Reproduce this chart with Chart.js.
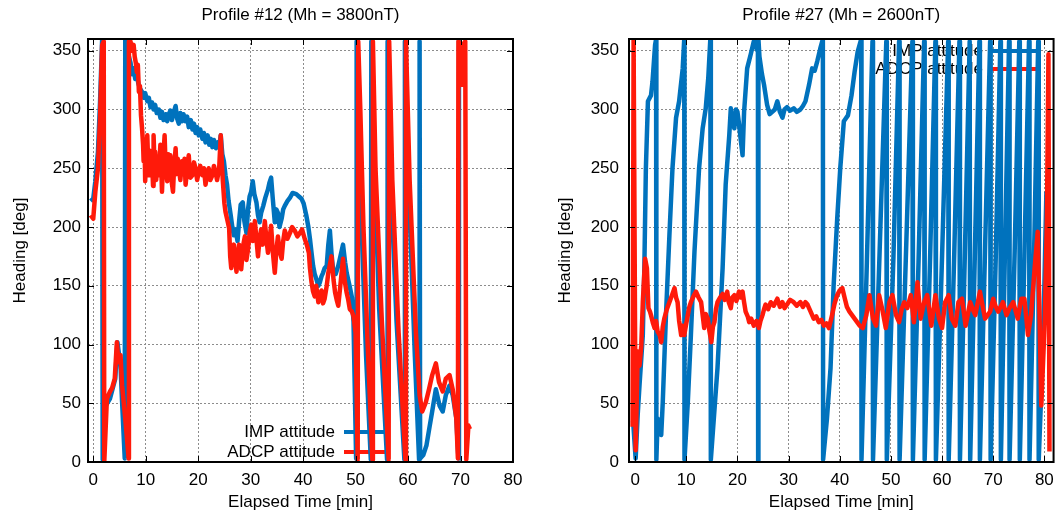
<!DOCTYPE html>
<html lang="en">
<head>
  <meta charset="UTF-8" />
  <title>Heading profiles #12 and #27</title>
  <script src="https://cdn.jsdelivr.net/npm/chart.js@4.4.0/dist/chart.umd.min.js"></script>
  <style>
    body { margin: 0; background: #fff; }
    #wrap { position: relative; width: 1062px; height: 518px; }
    canvas { position: absolute; top: 0; }
    #c12 { left: 0; }
    #c27 { left: 531px; }
  </style>
</head>
<body>
<div id="wrap">
  <canvas id="c12" width="531" height="518"></canvas>
  <canvas id="c27" width="531" height="518"></canvas>
</div>
<script>
// tick values
const xTickVals = [0, 10, 20, 30, 40, 50, 60, 70, 80];
const yTickVals = [0, 50, 100, 150, 200, 250, 300, 350];

// Profile #12: [elapsed min, heading deg]
const p12Imp = [
  [-0.5,222],[0,224],[0.4,239],[0.9,264],[1.3,307],[1.7,360],[1.8,2],[2.4,48],[3.2,54],[4.2,71],
  [4.6,102],[5.2,82],[5.5,51],[6.0,3],[6.1,360],[6.4,355],[6.8,345],[7.1,340],[7.4,330],[7.7,335],
  [8.0,326],[8.3,330],[8.6,322],[8.9,318],[9.3,315],[9.6,310],[9.9,314],[10.3,307],[10.6,310],[10.9,302],
  [11.2,306],[11.5,300],[11.8,304],[12.1,297],[12.5,300],[12.8,293],[13.1,298],[13.4,291],[13.8,296],[14.1,290],
  [14.4,296],[14.7,299],[15.0,291],[15.3,297],[15.7,303],[16.0,292],[16.3,288],[16.6,297],[16.9,290],[17.2,296],
  [17.6,290],[17.9,294],[18.2,285],[18.6,291],[18.9,283],[19.2,288],[19.5,280],[19.8,285],[20.1,278],[20.4,283],
  [20.8,275],[21.1,280],[21.4,272],[21.8,278],[22.1,270],[22.4,275],[22.7,268],[23.0,274],[23.4,267],[23.7,272],
  [24.0,268],[24.3,278],[24.6,262],[24.9,256],[25.2,244],[25.5,236],[25.8,222],[26.2,210],[26.5,200],[26.8,193],
  [27.1,198],[27.5,188],[27.8,205],[28.1,219],[28.5,221],[28.8,205],[29.2,195],[29.5,215],[29.8,226],[30.1,230],
  [30.4,239],[30.7,228],[31.1,221],[31.4,210],[31.7,204],[32.0,212],[32.4,218],[32.8,225],[33.3,232],[33.6,238],
  [33.9,242],[34.2,225],[34.6,204],[34.9,215],[35.2,212],[35.5,200],[35.9,207],[36.2,215],[36.5,218],[37.0,222],
  [37.5,225],[38.0,229],[38.7,228],[39.2,226],[39.7,224],[40.1,220],[40.6,210],[41.0,200],[41.3,190],[41.6,178],
  [41.9,167],[42.2,160],[42.5,156],[42.9,150],[43.2,153],[43.5,158],[43.8,161],[44.1,165],[44.5,167],[44.8,185],
  [45.1,197],[45.4,178],[45.7,164],[46.2,160],[46.7,167],[47.1,175],[47.6,185],[48.0,170],[48.3,161],[48.6,155],
  [48.9,149],[49.3,140],[49.6,120],[50.1,3],[50.2,358],[50.6,300],[51.3,180],[52,90],[52.9,2],[53.0,358],
  [53.5,260],[54.5,130],[56.0,2],[56.1,358],[56.6,250],[57.8,120],[59.3,2],[59.4,358],[60,250],[61.3,90],
  [62.1,2],[62.2,358],[62.3,3],[62.9,6],[63.5,14],[64.1,30],[64.6,43],[65.3,62],[66,48],[66.6,43],
  [67.2,57],[67.9,65],[68.5,57],[69.2,37],[69.6,3],[69.7,359],[70.0,356]
];
const p12Adcp = [
  [-0.5,210],[0,207],[0.4,230],[0.9,250],[1.3,293],[1.7,355],[2.0,358],[2.1,0],[2.6,54],[3.2,60],
  [3.6,63],[4.1,71],[4.5,102],[4.8,85],[5.2,91],[5.5,65],[6.1,37],[6.75,3],[6.8,358],[7.1,358],
  [7.4,350],[7.7,355],[7.9,345],[8.1,340],[8.3,332],[8.5,338],[8.7,315],[8.9,320],[9.1,295],[9.3,284],
  [9.5,270],[9.6,256],[9.8,265],[9.9,239],[10.1,262],[10.3,278],[10.5,250],[10.6,244],[10.8,265],[11.0,248],
  [11.2,256],[11.4,235],[11.5,278],[11.7,250],[11.8,264],[12.0,240],[12.2,260],[12.4,244],[12.6,255],[12.8,270],
  [13.0,245],[13.1,230],[13.3,255],[13.6,278],[13.8,250],[14.1,239],[14.3,262],[14.5,245],[14.7,261],[14.9,240],
  [15.2,230],[15.4,250],[15.7,267],[15.9,245],[16.1,258],[16.3,250],[16.6,240],[16.9,256],[17.1,245],[17.4,258],
  [17.6,236],[17.9,250],[18.2,261],[18.5,242],[18.9,244],[19.2,255],[19.5,250],[19.8,240],[20.1,247],[20.4,252],
  [20.8,244],[21.1,250],[21.4,236],[21.7,245],[22.0,250],[22.3,240],[22.7,244],[23.0,252],[23.3,247],[23.6,240],
  [24.0,250],[24.3,278],[24.5,255],[24.7,239],[25.0,220],[25.2,213],[25.6,205],[25.9,199],[26.1,175],[26.3,165],
  [26.6,180],[26.8,185],[27.1,170],[27.3,162],[27.6,178],[27.8,185],[28.0,172],[28.2,164],[28.6,185],[28.9,192],
  [29.2,172],[29.5,181],[29.8,195],[30.1,202],[30.4,188],[30.8,205],[31.1,190],[31.4,175],[31.7,190],[32,198],
  [32.3,185],[32.7,205],[33.0,190],[33.3,178],[33.6,190],[33.9,201],[34.2,180],[34.6,161],[34.9,180],[35.2,192],
  [35.5,180],[35.9,173],[36.2,188],[36.5,197],[37.0,190],[37.5,195],[37.9,200],[38.4,197],[38.9,192],[39.4,195],
  [39.8,198],[40.3,190],[40.7,185],[41.1,178],[41.3,165],[41.6,153],[41.9,145],[42.2,141],[42.5,150],[42.9,136],
  [43.2,142],[43.5,146],[43.8,135],[44.1,139],[44.5,150],[44.8,161],[45.1,168],[45.4,175],[45.8,155],[46.1,144],
  [46.4,138],[46.7,133],[47.2,155],[47.6,173],[47.9,155],[48.3,144],[48.6,138],[48.9,130],[49.3,128],[49.6,124],
  [50.0,110],[50.4,2],[50.5,358],[50.9,300],[51.5,200],[52.3,100],[53.2,2],[53.3,358],[53.8,250],[55,120],
  [56.3,2],[56.4,358],[57,240],[58.2,110],[59.5,2],[59.6,358],[60.3,240],[61.5,110],[62.2,57],[62.7,43],
  [63.4,51],[64,62],[64.6,74],[65.3,84],[65.9,68],[66.6,60],[67.2,71],[67.9,74],[68.5,62],[69.2,37],
  [69.5,3],[69.6,358],[70,355],[70.3,321],[70.6,356],[70.9,358],[71.1,2],[71.5,31],[71.8,28]
];

// Profile #27
const p27Imp = [
  [-0.4,35],[0.1,3],[0.5,40],[0.85,65],[1.5,108],[1.8,165],[2.1,250],[2.5,307],[3.1,312],[3.4,324],
  [3.9,355],[4.1,360],[4.15,2],[4.4,37],[5.1,23],[5.4,51],[6.0,122],[6.7,193],[7.3,250],[8.0,293],
  [8.6,307],[9.3,335],[9.6,360],[9.65,2],[10.3,51],[10.9,108],[11.6,179],[12.5,250],[13.2,284],[13.8,301],
  [14.3,327],[14.7,360],[14.8,2],[16.1,80],[17.1,165],[17.7,236],[18.4,278],[18.7,301],[19.0,290],[19.4,284],
  [19.7,300],[20,298],[20.3,288],[20.6,276],[21,261],[21.3,298],[21.9,335],[22.6,347],[23.2,358],[23.9,350],
  [24.0,360],[24.05,0],[24.1,360],[24.3,345],[24.8,330],[25.2,321],[25.8,304],[26.3,296],[26.8,298],[27.3,300],
  [27.8,307],[28.3,298],[28.8,293],[29.2,300],[29.7,302],[30.3,299],[31,301],[31.6,298],[32.3,300],[32.8,303],
  [33.3,307],[34,321],[34.6,335],[35.1,333],[35.6,341],[36.2,352],[36.7,360],[36.75,2],[37.5,37],[38.2,80],
  [38.8,150],[39.5,207],[40.1,250],[40.8,290],[41.6,295],[42.3,312],[42.9,332],[43.5,349],[44.2,360],[44.25,2],
  [45.3,170],[46.4,358],[46.5,2],[47.8,180],[49.1,358],[49.2,2],[50.5,175],[51.6,358],[51.7,2],[53.0,185],
  [54.2,358],[54.3,2],[55.4,170],[56.5,358],[56.6,2],[57.7,180],[58.7,358],[58.8,2],[60.0,175],[61.2,358],
  [61.3,2],[62.4,180],[63.4,358],[63.5,2],[64.5,185],[65.4,358],[65.5,2],[66.4,175],[67.3,358],[67.4,2],
  [68.4,180],[69.4,358],[69.5,2],[70.5,175],[71.4,358],[71.5,2],[72.3,180],[73.1,358],[73.2,2],[74.2,180],
  [75.1,358],[75.2,2],[76.1,175],[77.0,358],[77.1,2],[78.0,180],[78.8,358],[78.9,2],[79.4,60],[80.0,150],
  [80.4,230]
];
const p27Adcp = [
  [-0.5,30],[-0.3,360],[0.1,10],[0.5,94],[0.85,82],[1.2,99],[1.5,136],[1.95,173],[2.3,165],[2.6,131],
  [2.9,128],[3.1,125],[3.5,118],[3.8,114],[4.1,120],[4.4,111],[4.8,108],[5.1,102],[5.4,115],[5.7,122],
  [6.2,130],[6.7,136],[7.2,142],[7.7,148],[8.0,140],[8.3,136],[8.6,120],[9.0,108],[9.3,116],[9.6,108],
  [10.0,118],[10.3,125],[10.6,132],[10.9,136],[11.4,141],[11.9,145],[12.4,140],[12.9,136],[13.2,125],[13.5,114],
  [13.8,126],[14.2,122],[14.5,112],[14.9,102],[15.2,115],[15.5,119],[15.8,130],[16.1,136],[16.6,140],[17.1,143],
  [17.5,138],[18,145],[18.3,136],[18.7,131],[19.0,140],[19.4,142],[19.8,137],[20.3,145],[20.6,140],[21,145],
  [21.3,136],[21.6,128],[22.0,124],[22.3,119],[22.7,122],[23.2,116],[23.7,120],[24.2,114],[24.5,120],[24.9,125],
  [25.2,130],[25.5,134],[26.0,130],[26.5,136],[27.1,133],[27.8,139],[28.3,132],[28.8,136],[29.2,131],[29.7,134],
  [30.3,138],[31,136],[31.6,133],[32.3,136],[32.8,132],[33.3,136],[33.7,134],[34,131],[34.5,126],[34.9,122],
  [35.4,124],[35.9,119],[36.4,121],[36.9,116],[37.4,118],[37.9,114],[38.5,125],[39.0,135],[39.5,142],[40.0,146],
  [40.5,148],[41,139],[41.4,132],[41.9,128],[42.4,125],[42.9,122],[43.4,119],[43.9,116],[44.5,114],[45.2,125],
  [45.8,142],[46.5,122],[47.1,116],[47.7,142],[48.4,128],[49,114],[49.7,136],[50.3,142],[51,125],[51.6,119],
  [52.1,130],[52.6,136],[53.2,131],[53.9,142],[54.5,119],[55.2,153],[55.8,122],[56.5,136],[57.1,142],[57.9,116],
  [58.7,142],[59.4,122],[60,114],[60.6,136],[61.3,142],[61.9,122],[62.6,116],[63.2,136],[63.9,139],[64.6,116],
  [65.5,136],[66.0,130],[66.5,125],[67.4,145],[68.4,122],[69.4,128],[70,139],[70.5,132],[71,128],[71.9,136],
  [72.6,125],[73.2,131],[73.9,136],[74.8,122],[75.5,139],[76.1,139],[76.8,108],[77.4,125],[78.1,165],[78.7,196],
  [79,136],[79.4,48],[79.7,80],[80.1,122],[80.5,207],[80.8,347],[81.0,9]
];

const BLUE = '#0072bd';
const RED = '#ff1a0a';
const FONT = '"Liberation Sans", Arial, Helvetica, sans-serif';

const pts = arr => arr.map(p => ({ x: p[0], y: p[1] }));

// gnuplot-like frame with inward ticks, key drawn beneath the data
const frame = {
  id: 'frame',
  beforeDatasetsDraw(chart, args, opts) {
    const { ctx } = chart;
    ctx.save();
    ctx.font = '17px ' + FONT;
    ctx.textAlign = 'right';
    ctx.textBaseline = 'middle';
    opts.keys.forEach((k, i) => {
      const y = opts.y + i * opts.gap;
      ctx.fillStyle = '#000';
      ctx.fillText(k.label, opts.x, y);
      ctx.strokeStyle = k.color;
      ctx.lineWidth = 4;
      ctx.beginPath();
      ctx.moveTo(opts.x + 9, y);
      ctx.lineTo(opts.x + 54, y);
      ctx.stroke();
    });
    ctx.restore();
  },
  afterDatasetsDraw(chart) {
    const { ctx, chartArea: a, scales } = chart;
    ctx.save();
    ctx.strokeStyle = '#000';
    ctx.lineWidth = 1;
    ctx.beginPath();
    scales.x.ticks.forEach(t => {
      const px = Math.round(scales.x.getPixelForValue(t.value)) + 0.5;
      ctx.moveTo(px, a.bottom); ctx.lineTo(px, a.bottom - 6);
      ctx.moveTo(px, a.top); ctx.lineTo(px, a.top + 6);
    });
    scales.y.ticks.forEach(t => {
      const py = Math.round(scales.y.getPixelForValue(t.value)) + 0.5;
      ctx.moveTo(a.left, py); ctx.lineTo(a.left + 6, py);
      ctx.moveTo(a.right, py); ctx.lineTo(a.right - 6, py);
    });
    ctx.stroke();
    ctx.lineWidth = 2;
    ctx.strokeRect(a.left, a.top, a.width, a.height);
    ctx.restore();
  }
};

function makeChart(id, title, imp, adcp, cfg) {
  return new Chart(document.getElementById(id), {
    type: 'line',
    data: {
      datasets: [
        { label: 'IMP attitude', data: pts(imp), borderColor: BLUE, borderWidth: 4.5, order: 1 },
        { label: 'ADCP attitude', data: pts(adcp), borderColor: RED, borderWidth: 4.5, order: 0 }
      ]
    },
    options: {
      responsive: false,
      animation: false,
      devicePixelRatio: 1,
      datasets: { line: { pointRadius: 0, tension: 0, clip: 0, borderJoinStyle: 'round' } },
      layout: { padding: { left: cfg.padLeft, right: cfg.padRight, top: 0, bottom: 0 } },
      scales: {
        x: {
          type: 'linear',
          min: cfg.xMin, max: cfg.xMax,
          afterBuildTicks: s => { s.ticks = xTickVals.map(v => ({ value: v })); },
          afterFit: s => { s.height = 56; },
          grid: { color: '#8c8c8c', lineWidth: 1, drawTicks: false },
          border: { display: false, dash: [2, 2] },
          ticks: { color: '#000', font: { family: FONT, size: 17 }, padding: 8, maxRotation: 0 },
          title: { display: true, text: 'Elapsed Time [min]', color: '#000',
                   font: { family: FONT, size: 17 }, padding: { top: 0, bottom: 5 } }
        },
        y: {
          min: 0, max: 360,
          afterBuildTicks: s => { s.ticks = yTickVals.map(v => ({ value: v })); },
          afterFit: s => { s.width = cfg.yWidth; },
          grid: { color: '#8c8c8c', lineWidth: 1, drawTicks: false },
          border: { display: false, dash: [2, 2] },
          ticks: { color: '#000', font: { family: FONT, size: 17 }, padding: cfg.tickPad },
          title: { display: true, text: 'Heading [deg]', color: '#000',
                   font: { family: FONT, size: 17 }, padding: { top: 10, bottom: 0 } }
        }
      },
      plugins: {
        legend: { display: false },
        tooltip: { enabled: false },
        title: {
          display: true, text: title, color: '#000', fullSize: false,
          font: { family: FONT, size: 17, weight: 'normal' },
          padding: { top: 5, bottom: 13.6 }
        },
        frame: {
          x: cfg.keyX, y: cfg.keyY, gap: cfg.keyGap,
          keys: [{ label: 'IMP attitude', color: BLUE }, { label: 'ADCP attitude', color: RED }]
        }
      }
    },
    plugins: [frame]
  });
}

makeChart('c12', 'Profile #12 (Mh = 3800nT)', p12Imp, p12Adcp,
  { xMin: -1, xMax: 80, padLeft: 0, padRight: 18, yWidth: 88, tickPad: 7, keyX: 335, keyY: 432, keyGap: 20 });
makeChart('c27', 'Profile #27 (Mh = 2600nT)', p27Imp, p27Adcp,
  { xMin: -1.2, xMax: 81.8, padLeft: 14, padRight: 4, yWidth: 84, tickPad: 10, keyX: 452, keyY: 51, keyGap: 18 });
</script>
</body>
</html>
